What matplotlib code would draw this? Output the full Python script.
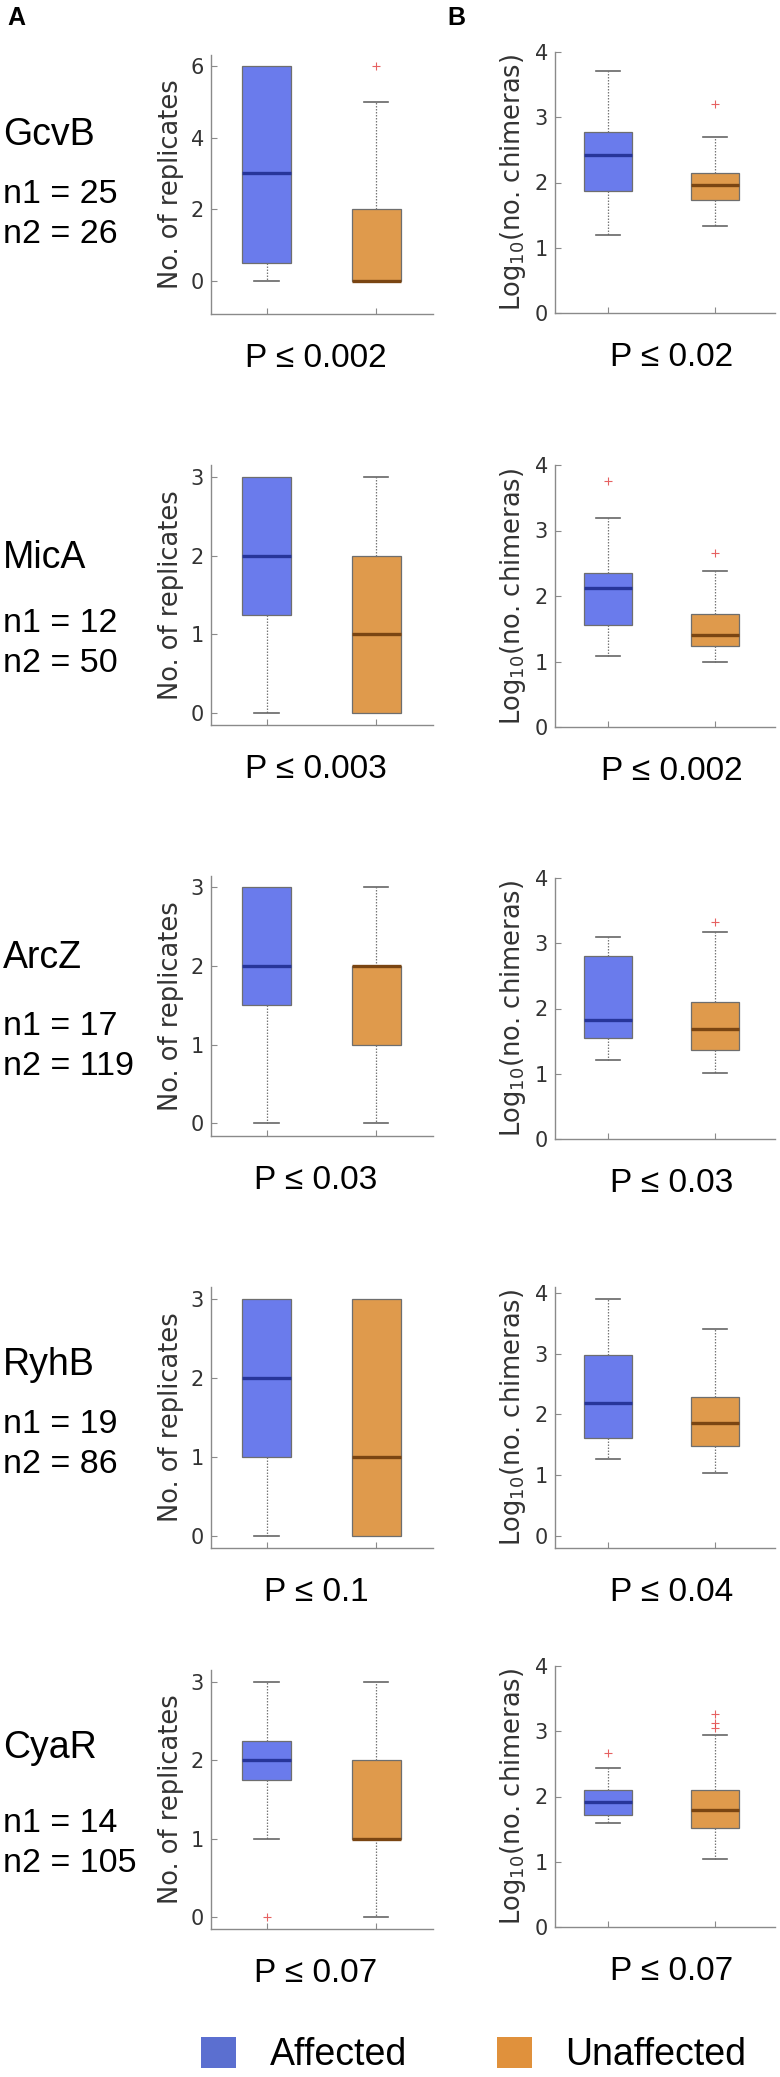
"""
Box plots: affected vs unaffected targets for five sRNAs.
Column A: number of replicates, column B: log10 number of chimeras.
"""
import matplotlib
matplotlib.use("Agg")
import matplotlib.pyplot as plt
from matplotlib.patches import Patch

W, H = 780, 2077

genes = ["GcvB", "MicA", "ArcZ", "RyhB", "CyaR"]
n1 = [25, 12, 17, 19, 14]
n2 = [26, 50, 119, 86, 105]
p_rep = ["0.002", "0.003", "0.03", "0.1", "0.07"]
p_chim = ["0.02", "0.002", "0.03", "0.04", "0.07"]

# [affected, unaffected] per sRNA
rep_whislo = [[0, 0], [0, 0], [0, 0], [0, 0], [1, 0]]
rep_q1 = [[0.5, 0], [1.25, 0], [1.5, 1], [1, 0], [1.75, 1]]
rep_med = [[3, 0], [2, 1], [2, 2], [2, 1], [2, 1]]
rep_q3 = [[6, 2], [3, 2], [3, 2], [3, 3], [2.25, 2]]
rep_whishi = [[6, 5], [3, 3], [3, 3], [3, 3], [3, 3]]
rep_fliers = [[[], [6]], [[], []], [[], []], [[], []], [[0], []]]

chim_whislo = [[1.20, 1.33], [1.08, 1.00], [1.21, 1.01], [1.26, 1.04], [1.59, 1.04]]
chim_q1 = [[1.87, 1.73], [1.55, 1.23], [1.55, 1.37], [1.61, 1.48], [1.72, 1.51]]
chim_med = [[2.42, 1.96], [2.12, 1.41], [1.82, 1.68], [2.19, 1.86], [1.92, 1.79]]
chim_q3 = [[2.77, 2.15], [2.35, 1.73], [2.81, 2.10], [2.98, 2.29], [2.10, 2.10]]
chim_whishi = [[3.71, 2.69], [3.19, 2.38], [3.09, 3.17], [3.91, 3.41], [2.43, 2.94]]
chim_fliers = [[[], [3.20]], [[3.75], [2.66]], [[], [3.33]], [[], []],
               [[2.67], [3.26, 3.12, 3.05]]]

rep_ylim = [(-0.92, 6.3), (-0.15, 3.15), (-0.16, 3.14), (-0.15, 3.15), (-0.15, 3.15)]
rep_yticks = [[0, 2, 4, 6], [0, 1, 2, 3], [0, 1, 2, 3], [0, 1, 2, 3], [0, 1, 2, 3]]
chim_ylim = [(0, 4), (0, 4), (0, 4), (-0.2, 4.1), (0, 4)]

# layout in pixels (top, bottom) for left / right axes
left_x = (211, 433)
right_x = (555, 775)
left_tb = [(55, 314), (465, 725), (876, 1136), (1287, 1548), (1670, 1929)]
right_tb = [(52, 313), (465, 727), (878, 1139), (1287, 1548), (1666, 1927)]
gene_y = [145, 568, 968, 1375, 1758]
n1_y = [203, 632, 1035, 1433, 1832]
n2_y = [243, 672, 1075, 1473, 1872]

BLUE = "#6a7bec"
BLUE_MED = "#27359a"
ORANGE = "#df9a4c"
ORANGE_MED = "#7a4512"
SPINE = "#8a8a8a"
TXT = "#333333"
ANN_FONT = ["Liberation Sans", "DejaVu Sans"]

fig = plt.figure(figsize=(W / 100, H / 100), dpi=100)


def px_axes(x0, x1, top, bottom):
    return fig.add_axes([x0 / W, (H - bottom) / H, (x1 - x0) / W, (bottom - top) / H])


def draw_box(ax, whislo, q1, med, q3, whishi, fliers, ylim, yticks, xlim, ylabel):
    for i, (fc, mc) in enumerate([(BLUE, BLUE_MED), (ORANGE, ORANGE_MED)]):
        st = dict(whislo=whislo[i], q1=q1[i], med=med[i], q3=q3[i],
                  whishi=whishi[i], fliers=fliers[i])
        art = ax.bxp([st], positions=[i + 1], widths=0.45, patch_artist=True,
                     manage_ticks=False,
                     boxprops=dict(facecolor=fc, edgecolor="#6e6e6e", linewidth=0.9),
                     medianprops=dict(color=mc, linewidth=2.4),
                     whiskerprops=dict(color="#777777", linestyle=(0, (1.2, 1.2)),
                                       linewidth=0.9),
                     capprops=dict(color="#666666", linewidth=1.2),
                     flierprops=dict(marker="+", markeredgecolor="#e03a3a",
                                     markersize=6, markeredgewidth=0.8, alpha=0.8))
        # no cap where the whisker has zero length
        lo_cap, hi_cap = art["caps"]
        if whislo[i] == q1[i]:
            lo_cap.set_visible(False)
        if whishi[i] == q3[i]:
            hi_cap.set_visible(False)
    ax.set_xlim(*xlim)
    ax.set_ylim(*ylim)
    ax.set_xticks([1, 2])
    ax.set_xticklabels([])
    ax.set_yticks(yticks)
    for s in ["top", "right"]:
        ax.spines[s].set_visible(False)
    for s in ["left", "bottom"]:
        ax.spines[s].set_color(SPINE)
        ax.spines[s].set_linewidth(1.0)
    ax.tick_params(direction="in", length=4, color=SPINE, labelcolor=TXT,
                   labelsize=15, pad=5)
    ax.set_ylabel(ylabel, fontsize=18.5, color=TXT, labelpad=5)


for r in range(len(genes)):
    axl = px_axes(*left_x, *left_tb[r])
    draw_box(axl, rep_whislo[r], rep_q1[r], rep_med[r], rep_q3[r], rep_whishi[r],
             rep_fliers[r], rep_ylim[r], rep_yticks[r], (0.49, 2.52), "No. of replicates")
    axr = px_axes(*right_x, *right_tb[r])
    draw_box(axr, chim_whislo[r], chim_q1[r], chim_med[r], chim_q3[r], chim_whishi[r],
             chim_fliers[r], chim_ylim[r], [0, 1, 2, 3, 4], (0.5, 2.56),
             r"Log$_{10}$(no. chimeras)")

    # P values under each panel
    pl = left_tb[r][1] + 53
    fig.text(316 / W, (H - pl) / H, "P \u2264 " + p_rep[r], ha="center",
             va="baseline", fontsize=24, family=ANN_FONT)
    pr = right_tb[r][1] + 53
    fig.text(672 / W, (H - pr) / H, "P \u2264 " + p_chim[r], ha="center",
             va="baseline", fontsize=24, family=ANN_FONT)

    # sRNA name and group sizes
    fig.text(3 / W, (H - gene_y[r]) / H, genes[r], ha="left", va="baseline",
             fontsize=27, family=ANN_FONT)
    fig.text(3 / W, (H - n1_y[r]) / H, f"n1 = {n1[r]}", ha="left", va="baseline",
             fontsize=24.5, family=ANN_FONT)
    fig.text(3 / W, (H - n2_y[r]) / H, f"n2 = {n2[r]}", ha="left", va="baseline",
             fontsize=24.5, family=ANN_FONT)

fig.text(7 / W, (H - 25) / H, "A", fontsize=18, fontweight="bold",
         va="baseline", family=ANN_FONT)
fig.text(447 / W, (H - 25) / H, "B", fontsize=18, fontweight="bold",
         va="baseline", family=ANN_FONT)

handles = [Patch(facecolor="#5b6fd0", edgecolor="none"),
           Patch(facecolor="#e0913c", edgecolor="none")]
fig.legend(handles, ["Affected", "Unaffected"], loc="center left",
           bbox_to_anchor=(201 / W, (H - 2055) / H), ncol=2, frameon=False,
           prop=dict(family=ANN_FONT, size=27), handlelength=0.93,
           handleheight=0.93, handletextpad=0.9, columnspacing=2.4,
           borderpad=0, borderaxespad=0)

fig.savefig("out.png", dpi=100, facecolor="white")
